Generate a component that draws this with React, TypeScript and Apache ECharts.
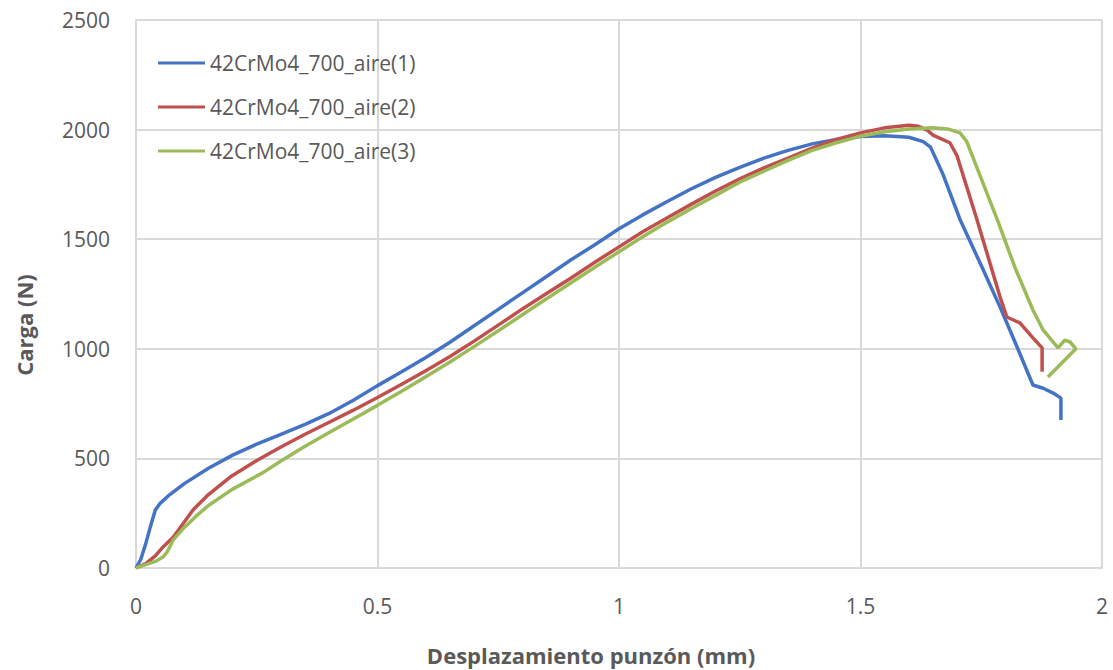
import React, { useEffect, useRef } from "react";
import * as echarts from "echarts";

// Punch displacement (mm) vs load (N) for three small-punch tests
const names = ["42CrMo4_700_aire(1)", "42CrMo4_700_aire(2)", "42CrMo4_700_aire(3)"];
const colors = ["#4472C4", "#C0504D", "#9BBB59"];

const test1: number[][] = [
  [0, 0], [0.01, 40], [0.02, 110], [0.03, 190], [0.04, 265], [0.05, 295], [0.07, 335],
  [0.1, 385], [0.15, 455], [0.2, 515], [0.25, 565], [0.3, 610], [0.35, 655], [0.4, 705],
  [0.45, 765], [0.5, 832], [0.55, 895], [0.6, 960], [0.65, 1030], [0.7, 1105], [0.75, 1180],
  [0.8, 1255], [0.85, 1330], [0.9, 1405], [0.95, 1475], [1.0, 1548], [1.05, 1612],
  [1.1, 1672], [1.15, 1730], [1.2, 1782], [1.25, 1828], [1.3, 1870], [1.35, 1905],
  [1.4, 1935], [1.45, 1955], [1.5, 1968], [1.55, 1972], [1.6, 1965], [1.63, 1945],
  [1.645, 1920], [1.67, 1800], [1.706, 1590], [1.75, 1380], [1.789, 1190], [1.82, 1030],
  [1.857, 835], [1.878, 820], [1.899, 798], [1.915, 775], [1.915, 675],
];

const test2: number[][] = [
  [0, 0], [0.02, 20], [0.04, 55], [0.056, 96], [0.077, 140], [0.1, 210], [0.118, 265],
  [0.15, 335], [0.195, 415], [0.25, 490], [0.3, 552], [0.35, 610], [0.4, 665], [0.45, 720],
  [0.5, 778], [0.55, 838], [0.6, 900], [0.65, 965], [0.7, 1035], [0.75, 1108], [0.8, 1182],
  [0.85, 1252], [0.9, 1322], [0.95, 1395], [1.0, 1465], [1.05, 1535], [1.1, 1598],
  [1.15, 1660], [1.2, 1720], [1.25, 1775], [1.3, 1825], [1.35, 1870], [1.4, 1915],
  [1.45, 1955], [1.5, 1985], [1.55, 2008], [1.6, 2020], [1.62, 2015], [1.638, 1998],
  [1.65, 1975], [1.685, 1940], [1.7, 1880], [1.741, 1590], [1.789, 1236], [1.803, 1145],
  [1.83, 1118], [1.857, 1050], [1.876, 1004], [1.876, 895],
];

const test3: number[][] = [
  [0, 0], [0.02, 15], [0.04, 30], [0.056, 50], [0.065, 75], [0.077, 128], [0.1, 185],
  [0.126, 240], [0.15, 285], [0.2, 360], [0.263, 435], [0.3, 488], [0.35, 555], [0.4, 618],
  [0.45, 680], [0.5, 742], [0.55, 806], [0.6, 872], [0.65, 940], [0.7, 1010], [0.75, 1082],
  [0.8, 1155], [0.85, 1228], [0.9, 1300], [0.95, 1372], [1.0, 1443], [1.05, 1512],
  [1.1, 1578], [1.15, 1640], [1.2, 1700], [1.25, 1760], [1.3, 1810], [1.35, 1860],
  [1.4, 1905], [1.45, 1940], [1.5, 1970], [1.55, 1990], [1.6, 2003], [1.65, 2008],
  [1.68, 2003], [1.706, 1985], [1.72, 1945], [1.783, 1590], [1.82, 1370], [1.857, 1177],
  [1.878, 1086], [1.909, 1004], [1.923, 1040], [1.934, 1031], [1.946, 1000], [1.888, 871],
];

const seriesData = [test1, test2, test3];

const xName = "Desplazamiento punzón (mm)";
const yName = "Carga (N)";

const FONT = "'Open Sans', 'Liberation Sans', sans-serif";
const TEXT = "#595959";
const GRID = "#d9d9d9";

export default function App() {
  const ref = useRef<HTMLDivElement>(null);

  useEffect(() => {
    document.body.style.margin = "0";
    const chart = echarts.init(ref.current!, undefined, { renderer: "svg" });
    chart.setOption({
      animation: false,
      backgroundColor: "#ffffff",
      grid: { left: 136, right: 11, top: 20, bottom: 102, containLabel: false },
      legend: {
        orient: "vertical",
        left: 158,
        top: 52,
        padding: 0,
        icon: "rect",
        itemWidth: 47,
        itemHeight: 3,
        itemGap: 22,
        data: names,
        textStyle: { fontFamily: FONT, fontSize: 21, color: TEXT, lineHeight: 22 },
      },
      xAxis: {
        type: "value",
        min: 0,
        max: 2,
        interval: 0.5,
        axisLine: { show: true, lineStyle: { color: GRID, width: 2 } },
        axisTick: { show: false },
        axisLabel: { margin: 27, fontFamily: FONT, fontSize: 21, color: TEXT },
        splitLine: { show: true, lineStyle: { color: GRID, width: 2 } },
      },
      yAxis: {
        type: "value",
        min: 0,
        max: 2500,
        interval: 500,
        axisLine: { show: true, lineStyle: { color: GRID, width: 2 } },
        axisTick: { show: false },
        axisLabel: {
          margin: 26,
          fontFamily: FONT,
          fontSize: 21,
          color: TEXT,
          formatter: (v: number) => String(v),
        },
        splitLine: { show: true, lineStyle: { color: GRID, width: 2 } },
      },
      graphic: [
        {
          type: "text",
          x: 591,
          y: 655,
          style: {
            text: xName,
            fontFamily: FONT,
            fontSize: 22,
            fontWeight: "bold",
            fill: TEXT,
            align: "center",
            verticalAlign: "middle",
          },
        },
        {
          type: "text",
          x: 24,
          y: 325,
          rotation: Math.PI / 2,
          style: {
            text: yName,
            fontFamily: FONT,
            fontSize: 22,
            fontWeight: "bold",
            fill: TEXT,
            align: "center",
            verticalAlign: "middle",
          },
        },
      ],
      series: seriesData.map((d, i) => ({
        name: names[i],
        type: "line",
        data: d,
        symbol: "none",
        showSymbol: false,
        smooth: false,
        lineStyle: { color: colors[i], width: 3.5 },
        itemStyle: { color: colors[i] },
      })),
    });
    return () => chart.dispose();
  }, []);

  return <div ref={ref} style={{ width: 1113, height: 670 }} />;
}
